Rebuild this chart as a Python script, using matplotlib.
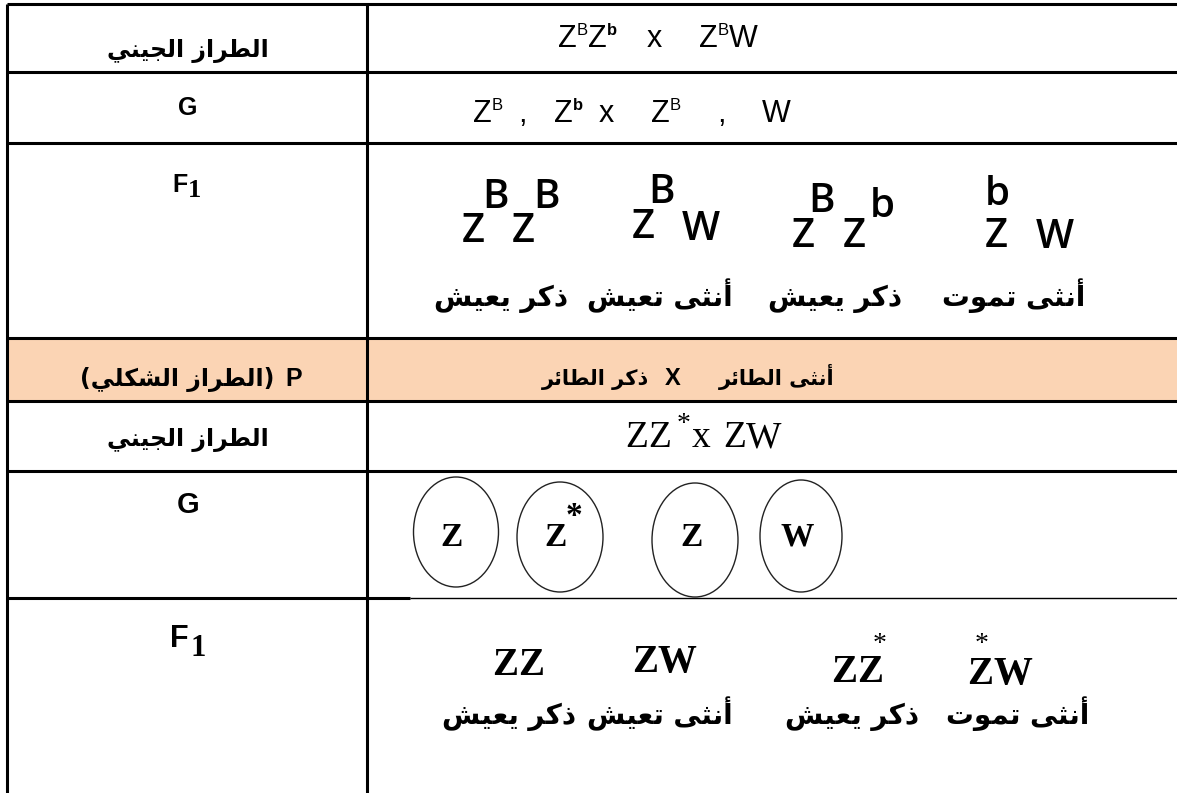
import matplotlib
matplotlib.use('Agg')
import matplotlib.pyplot as plt
from matplotlib.patches import Ellipse, Rectangle

# contenido de la tabla
label_genotype = 'الطراز الجيني'
label_phenotype = 'الطراز الشكلي'
cross_female = 'أنثى الطائر'
cross_male = 'ذكر الطائر'
# fenotipos de la F1, de izquierda a derecha como se ven
phenotypes = ['ذكر يعيش', 'أنثى تعيش', 'ذكر يعيش', 'أنثى تموت']
# primer cruce
f1_first = [[('Z', 'B'), ('Z', 'B')], [('Z', 'B'), ('W', '')],
            [('Z', 'B'), ('Z', 'b')], [('Z', 'b'), ('W', '')]]
# segundo cruce
gametes = [('Z', ''), ('Z', '*'), ('Z', ''), ('W', '')]
f1_second = [[('Z', ''), ('Z', '')], [('Z', ''), ('W', '')],
             [('Z', ''), ('Z', '*')], [('Z', '*'), ('W', '')]]

# formas de presentacion: aislada, final, inicial, media
FORMS = {
    'ا': ('\uFE8D', '\uFE8E', None, None),
    'أ': ('\uFE83', '\uFE84', None, None),
    'ل': ('\uFEDD', '\uFEDE', '\uFEDF', '\uFEE0'),
    'ط': ('\uFEC1', '\uFEC2', '\uFEC3', '\uFEC4'),
    'ر': ('\uFEAD', '\uFEAE', None, None),
    'ز': ('\uFEAF', '\uFEB0', None, None),
    'ج': ('\uFE9D', '\uFE9E', '\uFE9F', '\uFEA0'),
    'ي': ('\uFEF1', '\uFEF2', '\uFEF3', '\uFEF4'),
    'ن': ('\uFEE5', '\uFEE6', '\uFEE7', '\uFEE8'),
    'ش': ('\uFEB5', '\uFEB6', '\uFEB7', '\uFEB8'),
    'ك': ('\uFED9', '\uFEDA', '\uFEDB', '\uFEDC'),
    'ث': ('\uFE99', '\uFE9A', '\uFE9B', '\uFE9C'),
    'ى': ('\uFEEF', '\uFEF0', None, None),
    'ئ': ('\uFE89', '\uFE8A', '\uFE8B', '\uFE8C'),
    'ذ': ('\uFEAB', '\uFEAC', None, None),
    'ت': ('\uFE95', '\uFE96', '\uFE97', '\uFE98'),
    'م': ('\uFEE1', '\uFEE2', '\uFEE3', '\uFEE4'),
    'و': ('\uFEED', '\uFEEE', None, None),
    'ع': ('\uFEC9', '\uFECA', '\uFECB', '\uFECC'),
}


def shape(text):
    out = []
    for i, c in enumerate(text):
        if c not in FORMS:
            out.append(c)
            continue
        iso, fin, ini, med = FORMS[c]
        prev = text[i - 1] if i > 0 else ''
        nxt = text[i + 1] if i + 1 < len(text) else ''
        jp = prev in FORMS and FORMS[prev][2] is not None
        jn = nxt in FORMS and ini is not None
        if jp and jn:
            out.append(med)
        elif jp:
            out.append(fin)
        elif jn:
            out.append(ini)
        else:
            out.append(iso)
    return ''.join(reversed(out))


W, H = 1177, 793
fig = plt.figure(figsize=(W / 100, H / 100), dpi=100)
ax = fig.add_axes([0, 0, 1, 1])
ax.set_xlim(0, W)
ax.set_ylim(H, 0)
ax.axis('off')
renderer = fig.canvas.get_renderer()

ARAB = 'DejaVu Sans'
ARIAL = 'Liberation Sans'
TIMES = 'Liberation Serif'
CALI = 'Open Sans'


def flow(x, y, parts):
    # parts: (texto, tamano, subida, negrita, familia) o un numero = hueco
    for p in parts:
        if isinstance(p, (int, float)):
            x += p
            continue
        s, size, rise, bold, fam = p
        t = ax.text(x, y - rise, s, fontsize=size, family=fam,
                    fontweight='bold' if bold else 'normal', ha='left', va='baseline')
        x += t.get_window_extent(renderer).width
    return x


# fondo fila P
ax.add_patch(Rectangle((7, 338), W, 63, facecolor='#FBD4B4', edgecolor='none', zorder=0))

# bordes
lw = 2.2
row_lines = [4, 72, 143, 338, 401, 471]
ax.hlines(row_lines, 7, W, color='black', lw=lw)
ax.hlines(598, 7, 410, color='black', lw=lw)
ax.hlines(598, 410, W, color='black', lw=1.0)
ax.vlines([7, 367], 4, H, color='black', lw=lw)

# columna izquierda
cx = 188
ax.text(cx, 57, shape(label_genotype), fontsize=17, fontweight='bold',
        family=ARAB, ha='center', va='baseline')
ax.text(cx, 115, 'G', fontsize=18, fontweight='bold', family=ARIAL, ha='center', va='baseline')
flow(172, 192, [('F', 18, 0, True, ARIAL), 1, ('1', 19, -5, True, TIMES)])
flow(80, 386, [('(' + shape(label_phenotype) + ')', 17, 0, True, ARAB), 11,
               ('P', 18, 0, True, ARIAL)])
ax.text(cx, 446, shape(label_genotype), fontsize=17, fontweight='bold',
        family=ARAB, ha='center', va='baseline')
ax.text(cx, 513, 'G', fontsize=21, fontweight='bold', family=ARIAL, ha='center', va='baseline')
flow(170, 647, [('F', 22, 0, True, ARIAL), 2, ('1', 22, -9, True, TIMES)])

# fila 1: genotipos de los padres
big, sup = 22, 12
flow(558, 47, [('Z', big, 0, False, ARIAL), ('B', sup, 12, False, ARIAL),
               ('Z', big, 0, False, ARIAL), ('b', sup, 12, True, ARIAL), 30,
               ('x', big, 0, False, ARIAL), 37,
               ('Z', big, 0, False, ARIAL), ('B', sup, 12, False, ARIAL),
               ('W', big, 0, False, ARIAL)])
# fila 2: gametos
flow(473, 122, [('Z', big, 0, False, ARIAL), ('B', sup, 12, False, ARIAL), 15,
                (',', big, 0, False, ARIAL), 28,
                ('Z', big, 0, False, ARIAL), ('b', sup, 12, True, ARIAL), 15,
                ('x', big, 0, False, ARIAL), 37,
                ('Z', big, 0, False, ARIAL), ('B', sup, 12, False, ARIAL), 37,
                (',', big, 0, False, ARIAL), 36,
                ('W', big, 0, False, ARIAL)])

# fila 3: F1 del primer cruce (letra x, base, sup x, sup base)
pos1 = [[(462, 242, 482, 208), (512, 242, 533, 208)],
        [(632, 238, 648, 203), (682, 240, 0, 0)],
        [(792, 247, 808, 212), (843, 247, 870, 217)],
        [(985, 247, 985, 205), (1036, 248, 0, 0)]]
for geno, pp in zip(f1_first, pos1):
    for (letter, s), (x, y, xs, ys) in zip(geno, pp):
        ax.text(x, y, letter, fontsize=29, fontweight='semibold', family=CALI,
                ha='left', va='baseline')
        if s:
            ax.text(xs, ys, s, fontsize=29, fontweight='semibold', family=CALI,
                    ha='left', va='baseline')

for txt, x in zip(phenotypes, [501, 660, 835, 1014]):
    ax.text(x, 306, shape(txt), fontsize=20, fontweight='bold', family=ARAB,
            ha='center', va='baseline')

# fila P
flow(542, 385, [(shape(cross_male), 15, 0, True, ARAB), 16, ('X', 17, 0, True, ARIAL), 38,
                (shape(cross_female), 15, 0, True, ARAB)])

# genotipo segundo cruce
tb = 27
flow(625, 447, [('Z', tb, 0, False, TIMES), ('Z', tb, 0, False, TIMES), 6,
                ('*', 20, 16, False, TIMES), 1, ('x', tb, 0, False, TIMES), 13,
                ('Z', tb, 0, False, TIMES), ('W', tb, 0, False, TIMES)])

# gametos con elipses
ell = [(456, 532, 85, 110), (560, 537, 86, 110), (695, 540, 86, 114), (801, 536, 82, 112)]
for (letter, s), (ex, ey, ew, eh) in zip(gametes, ell):
    ax.add_patch(Ellipse((ex, ey), ew, eh, facecolor='none', edgecolor='#222222', lw=1.0))
    ax.text(ex - 4, 546, letter, fontsize=24, fontweight='bold', family=TIMES,
            ha='center', va='baseline')
    if s:
        ax.text(ex + 14, 525, s, fontsize=24, fontweight='bold', family=TIMES,
                ha='center', va='baseline')

# F1 del segundo cruce
pos2 = [(492, 675), (632, 672), (831, 682), (967, 684)]
for geno, (x, y) in zip(f1_second, pos2):
    xx = x
    for letter, s in geno:
        t = ax.text(xx, y, letter, fontsize=28, fontweight='bold', family=TIMES,
                    ha='left', va='baseline')
        w = t.get_window_extent(renderer).width
        if s:
            right = letter == 'Z' and xx != x
            ax.text(xx + w / 2 + (10 if right else 2), y - (31 if right else 33), s,
                    fontsize=20, family=TIMES, ha='center', va='baseline')
        xx += w

for txt, x in zip(phenotypes, [509, 660, 852, 1018]):
    ax.text(x, 724, shape(txt), fontsize=20, fontweight='bold', family=ARAB,
            ha='center', va='baseline')

fig.savefig('out.png', dpi=100)
